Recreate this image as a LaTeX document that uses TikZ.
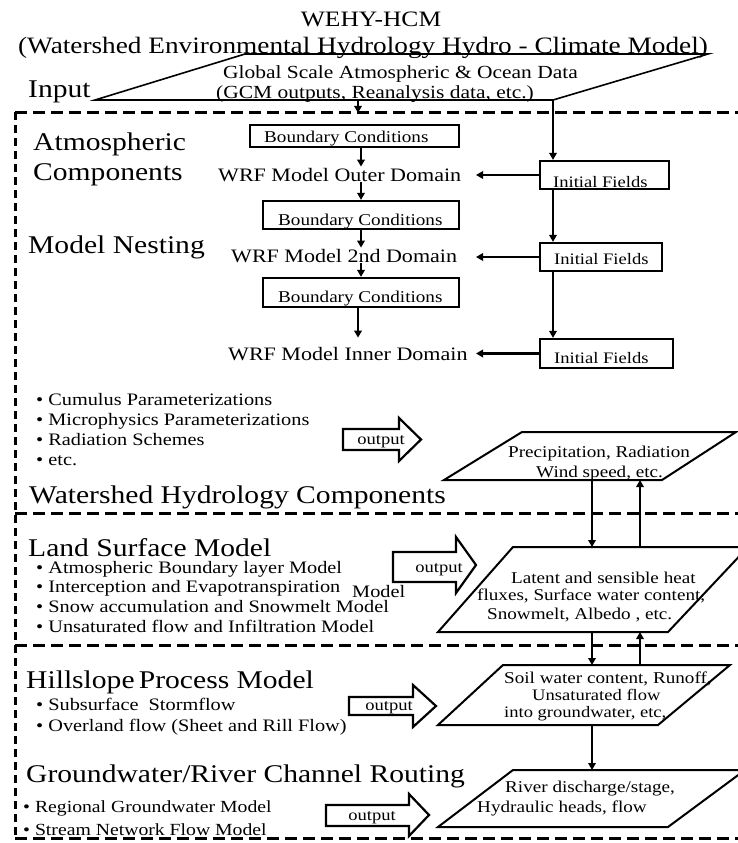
\documentclass[tikz,border=0pt]{standalone}
\usepackage{fontspec}
\setmainfont{Liberation Serif}[FakeStretch=1.16]
\usetikzlibrary{arrows.meta,calc}
\begin{document}
\begin{tikzpicture}[x=1pt,y=-1pt,
  arr/.style={line width=2.5pt,-{Triangle[length=7pt,width=7.5pt]}},
  frame/.style={line width=3pt,dash pattern=on 12pt off 6pt},
  vframe/.style={line width=3pt,dash pattern=on 8pt off 5pt},
  box/.style={draw,line width=2.2pt,inner sep=0pt},
  para/.style={draw,line width=2pt,line join=miter},
  oar/.style={draw,line width=2.2pt,line join=miter},
  txt/.style={anchor=base west,inner sep=1pt},
  ttlf/.style={txt,font=\fontsize{22pt}{24pt}\selectfont},
  subf/.style={txt,font=\fontsize{23.5pt}{26pt}\selectfont},
  big/.style={txt,font=\fontsize{25.5pt}{28pt}\selectfont},
  globf/.style={txt,font=\fontsize{18.5pt}{20pt}\selectfont},
  wrff/.style={txt,font=\fontsize{19pt}{21pt}\selectfont},
  bcf/.style={txt,font=\fontsize{16.5pt}{18pt}\selectfont},
  iff/.style={txt,font=\fontsize{16pt}{18pt}\selectfont},
  bul/.style={txt,font=\fontsize{17.5pt}{19pt}\selectfont},
  buls/.style={txt,font=\fontsize{17pt}{19pt}\selectfont},
  parf/.style={txt,font=\fontsize{16.5pt}{18pt}\selectfont},
  outf/.style={txt,anchor=base,font=\fontsize{16pt}{18pt}\selectfont}
]
\useasboundingbox (0,0) rectangle (738,843);
\clip (0,0) rectangle (738,843);

% ---------- title ----------
\node[ttlf,anchor=base] (title) at (371,27) {WEHY-HCM};
\node[subf,anchor=base] (subtitle) at (363,54) {(Watershed Environmental Hydrology Hydro - Climate Model)};

% ---------- input parallelogram ----------
\coordinate (inBL) at (95,100);
\coordinate (inBR) at (553,100);
\coordinate (inTR) at (708,54);
\coordinate (inTL) at (245,54);
\draw[para,line width=1.6pt] (inBL) -- (inBR) -- (inTR) -- (inTL) -- cycle;
\node[big] (input) at (27,97) {Input};
\node[globf] (glob1) at (222,78) {Global Scale Atmospheric \& Ocean Data};
\node[globf] (glob2) at (215,98) {(GCM outputs, Reanalysis data, etc.)};

% ---------- dashed frames ----------
\draw[frame] (15,112) -- (738,112);
\draw[vframe] (15,112) -- (15,838);
\draw[frame] (15,838) -- (738,838);
\draw[frame] (15,513) -- (738,513);
\draw[frame] (15,645) -- (738,645);

% ---------- atmospheric labels ----------
\node[big] (atm) at (32,150) {Atmospheric};
\node[big] (comp) at (32,180) {Components};
\node[big] (nest) at (27,253) {Model Nesting};

% ---------- boxes ----------
\node[box,minimum width=209pt,minimum height=22pt] (bc1) at (354.5,136) {};
\node[bcf] (bc1t) at (263,142) {Boundary Conditions};
\node[box,minimum width=196pt,minimum height=28pt] (bc2) at (361,215) {};
\node[bcf] (bc2t) at (277,225) {Boundary Conditions};
\node[box,minimum width=196pt,minimum height=29pt] (bc3) at (361,292.5) {};
\node[bcf] (bc3t) at (277,302) {Boundary Conditions};

\node[box,minimum width=129pt,minimum height=28pt] (if1) at (604.5,175) {};
\node[iff] (if1t) at (552,187) {Initial Fields};
\node[box,minimum width=122pt,minimum height=28pt] (if2) at (601,257) {};
\node[iff] (if2t) at (553,264) {Initial Fields};
\node[box,minimum width=133pt,minimum height=29pt] (if3) at (606.5,353.5) {};
\node[iff] (if3t) at (553,363) {Initial Fields};

\node[wrff] (wrf1) at (217,181) {WRF Model Outer Domain};
\node[wrff] (wrf2) at (230,262) {WRF Model 2nd Domain};
\node[wrff] (wrf3) at (227,360) {WRF Model Inner Domain};

% ---------- columns ----------
\coordinate (cA) at (358,0);
\coordinate (cB) at (361,0);
\coordinate (cR) at (553,0);
\coordinate (tipx) at (476,0);

\draw[arr,shorten >=11pt] (cA |- inBL) -- (cA |- bc1.north);
\draw[arr] (cB |- bc1.south) -- (cB |- wrf1.north);
\draw[arr] (cB |- wrf1.south) -- (cB |- bc2.north);
\draw[arr] (cB |- bc2.south) -- (cB |- wrf2.north);
\draw[arr] (cB |- wrf2.south) -- (cB |- bc3.north);
\draw[arr,shorten >=8pt] (cA |- bc3.south) -- (cA |- wrf3.north);

\draw[arr] (cR |- inBR) -- (cR |- if1.north);
\draw[arr] (cR |- if1.south) -- (cR |- if2.north);
\draw[arr] (cR |- if2.south) -- (cR |- if3.north);
\draw[arr] (if1.west) -- (if1.west -| tipx);
\draw[arr] (if2.west) -- (if2.west -| tipx);
\draw[arr] (if3.west) -- (if3.west -| tipx);

% ---------- atmospheric bullets ----------
\node[bul] (b1) at (35,405) {• Cumulus Parameterizations};
\node[bul] (b2) at (35,425) {• Microphysics Parameterizations};
\node[bul] (b3) at (35,445) {• Radiation Schemes};
\node[bul] (b4) at (35,465) {• etc.};

% ---------- output arrows ----------
\draw[oar] (343,429) -- (399,429) -- (399,418) -- (421,439.5) -- (399,461) -- (399,450) -- (343,450) -- cycle;
\node[outf] (o1) at (381,444) {output};
\draw[oar] (393,552) -- (456,552) -- (456,537) -- (476,565) -- (456,593) -- (456,582) -- (393,582) -- cycle;
\node[outf] (o2) at (439,572) {output};
\draw[oar] (349,697) -- (413,697) -- (413,685) -- (436,706) -- (413,727) -- (413,715) -- (349,715) -- cycle;
\node[outf] (o3) at (389,710) {output};
\draw[oar] (326,805) -- (409,805) -- (409,794) -- (429,815) -- (409,836) -- (409,826) -- (326,826) -- cycle;
\node[outf] (o4) at (372,820) {output};

% ---------- parallelograms ----------
\coordinate (p1sw) at (444,480); \coordinate (p1se) at (662,480);
\coordinate (p1ne) at (736,432); \coordinate (p1nw) at (522,432);
\draw[para] (p1sw) -- (p1se) -- (p1ne) -- (p1nw) -- cycle;
\node[parf] (p1a) at (507,457) {Precipitation, Radiation};
\node[parf] (p1b) at (535,477) {Wind speed, etc.};

\coordinate (p2sw) at (438,632); \coordinate (p2se) at (668,632);
\coordinate (p2ne) at (748,547); \coordinate (p2nw) at (513,547);
\draw[para] (p2sw) -- (p2se) -- (p2ne) -- (p2nw) -- cycle;
\node[parf] (p2a) at (510,583) {Latent and sensible heat};
\node[parf] (p2b) at (476,600) {fluxes, Surface water content,};
\node[parf] (p2c) at (486,619) {Snowmelt, Albedo , etc.};

\coordinate (p3sw) at (438,725); \coordinate (p3se) at (658,725);
\coordinate (p3ne) at (730,665); \coordinate (p3nw) at (503,665);
\draw[para] (p3sw) -- (p3se) -- (p3ne) -- (p3nw) -- cycle;
\node[parf] (p3a) at (503,683) {Soil water content, Runoff,};
\node[parf,font=\fontsize{16pt}{17pt}\selectfont] (p3b) at (531,700) {Unsaturated flow};
\node[parf,font=\fontsize{16pt}{17pt}\selectfont] (p3c) at (503,717) {into groundwater, etc,};

\coordinate (p4sw) at (438,827); \coordinate (p4se) at (668,827);
\coordinate (p4ne) at (745,770); \coordinate (p4nw) at (513,770);
\draw[para] (p4sw) -- (p4se) -- (p4ne) -- (p4nw) -- cycle;
\node[parf] (p4a) at (504,792) {River discharge/stage,};
\node[parf] (p4b) at (476,812) {Hydraulic heads, flow};

\coordinate (cD) at (592,0);
\coordinate (cU) at (640,0);
\draw[arr] (cD |- p1sw) -- (cD |- p2nw);
\draw[arr] (cU |- p2nw) -- (cU |- p1sw);
\draw[arr] (cD |- p2sw) -- (cD |- p3nw);
\draw[arr] (cU |- p3nw) -- (cU |- p2sw);
\draw[arr] (cD |- p3sw) -- (cD |- p4nw);

% ---------- watershed section ----------
\node[big] (wsh) at (28,503) {Watershed Hydrology Components};
\node[big] (lsm) at (27,556) {Land Surface Model};
\node[bul] (l1) at (35,573) {• Atmospheric Boundary layer Model};
\node[bul] (l2) at (35,592) {• Interception and Evapotranspiration};
\node[bul] (l2m) at (351,597) {Model};
\node[bul] (l3) at (35,612) {• Snow accumulation and Snowmelt Model};
\node[bul] (l4) at (35,632) {• Unsaturated flow and Infiltration Model};

\node[big] (hill) at (25,688) {Hillslope\,Process Model};
\node[bul] (h1) at (35,710) {• Subsurface\ \ Stormflow};
\node[bul] (h2) at (35,731) {• Overland flow (Sheet and Rill Flow)};

\node[big] (gw) at (25,782) {Groundwater/River Channel Routing};
\node[buls] (g1) at (22,812) {• Regional Groundwater Model};
\node[buls] (g2) at (22,835) {• Stream Network Flow Model};
\end{tikzpicture}
\end{document}
